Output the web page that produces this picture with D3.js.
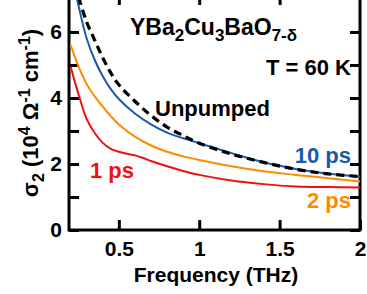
<!DOCTYPE html>
<html>
<head>
<meta charset="utf-8">
<script src="https://cdn.jsdelivr.net/npm/d3@7"></script>
<style>
  body { margin: 0; background: #fff; }
  svg { display: block; font-family: Arial, "Liberation Sans", sans-serif; font-weight: bold; }
</style>
</head>
<body>
<svg id="chart" width="367" height="294"></svg>
<script>
// values (sigma2 in 10^4 / ohm cm, frequency in THz)
let freqUnpumped = [0.25, 0.3, 0.35, 0.4, 0.45, 0.5, 0.6, 0.7, 0.8, 0.9, 1.0, 1.2, 1.4, 1.6, 1.8, 2.0];
let sigUnpumped  = [7.05, 6.3, 5.75, 5.22, 4.76, 4.4, 3.9, 3.47, 3.12, 2.86, 2.63, 2.3, 2.05, 1.84, 1.7, 1.62];

let freq10ps = [0.235, 0.25, 0.3, 0.35, 0.4, 0.45, 0.5, 0.6, 0.7, 0.8, 0.9, 1.0, 1.2, 1.4, 1.6, 1.8, 2.0];
let sig10ps  = [7.1, 6.78, 5.8, 5.15, 4.66, 4.27, 3.97, 3.53, 3.2, 2.95, 2.78, 2.63, 2.33, 2.05, 1.85, 1.71, 1.61];

let freq2ps = [0.2, 0.25, 0.3, 0.35, 0.4, 0.45, 0.5, 0.6, 0.7, 0.8, 0.9, 1.0, 1.2, 1.4, 1.6, 1.8, 2.0];
let sig2ps  = [5.6, 4.95, 4.42, 4.05, 3.74, 3.45, 3.2, 2.83, 2.56, 2.37, 2.23, 2.12, 1.93, 1.78, 1.67, 1.57, 1.47];

let freq1ps = [0.2, 0.25, 0.3, 0.35, 0.4, 0.45, 0.5, 0.55, 0.6, 0.65, 0.7, 0.8, 0.9, 1.0, 1.2, 1.4, 1.6, 1.8, 2.0];
let sig1ps  = [4.95, 4.1, 3.36, 2.94, 2.64, 2.46, 2.37, 2.31, 2.26, 2.18, 2.09, 1.93, 1.79, 1.67, 1.5, 1.39, 1.32, 1.3, 1.29];

let xTicks = [0.5, 1, 1.5, 2];
let yTicks = [0, 1, 2, 3, 4, 5, 6];

let blueColor = "#1a5aa8";
let orangeColor = "#ff8a00";
let redColor = "#f01010";

let svg = d3.select("#chart");

let x = d3.scaleLinear().domain([0.19, 2]).range([69, 360]);
let y = d3.scaleLinear().domain([0, 7.12]).range([230, -5]);

svg.append("clipPath").attr("id", "plotClip")
  .append("rect")
  .attr("x", x.range()[0])
  .attr("y", y.range()[1])
  .attr("width", x.range()[1] - x.range()[0])
  .attr("height", y.range()[0] - y.range()[1]);

function styleAxis(g)
{
  g.select(".domain").remove();
  g.selectAll(".tick line").attr("stroke", "#000").attr("stroke-width", 3);
  g.selectAll(".tick text").attr("fill", "#000").attr("font-size", 21)
    .attr("font-family", "Arial, 'Liberation Sans', sans-serif").attr("font-weight", "bold");
}

// bottom & left axes with labels, ticks pointing inward
svg.append("g")
  .attr("transform", "translate(0," + y(0) + ")")
  .call(d3.axisBottom(x).tickValues(xTicks).tickSize(-10).tickPadding(11).tickFormat(d3.format("")))
  .call(styleAxis);

svg.append("g")
  .attr("transform", "translate(" + x.range()[0] + ",0)")
  .call(d3.axisLeft(y).tickValues(yTicks).tickSize(-10).tickPadding(7)
    .tickFormat(d => d % 2 === 0 ? d : ""))
  .call(styleAxis);

// mirrored ticks on top & right
svg.append("g")
  .attr("transform", "translate(0," + y.range()[1] + ")")
  .call(d3.axisTop(x).tickValues([0.5, 1, 1.5]).tickSize(-10).tickFormat(""))
  .call(styleAxis);

svg.append("g")
  .attr("transform", "translate(" + x.range()[1] + ",0)")
  .call(d3.axisRight(y).tickValues(yTicks).tickSize(-10).tickFormat(""))
  .call(styleAxis);

// frame
svg.append("rect")
  .attr("x", x.range()[0])
  .attr("y", y.range()[1])
  .attr("width", x.range()[1] - x.range()[0])
  .attr("height", y.range()[0] - y.range()[1])
  .attr("fill", "none")
  .attr("stroke", "#000")
  .attr("stroke-width", 3);

function drawCurve(freqs, sigs, color, width, dash)
{
  let pts = freqs.map((f, i) => [f, sigs[i]]);
  let line = d3.line()
    .x(d => x(d[0]))
    .y(d => y(d[1]))
    .curve(d3.curveCatmullRom.alpha(0.5));
  svg.append("path")
    .datum(pts)
    .attr("clip-path", "url(#plotClip)")
    .attr("d", line)
    .attr("fill", "none")
    .attr("stroke", color)
    .attr("stroke-width", width)
    .attr("stroke-dasharray", dash);
}

drawCurve(freq1ps, sig1ps, redColor, 2, null);
drawCurve(freq2ps, sig2ps, orangeColor, 2, null);
drawCurve(freq10ps, sig10ps, blueColor, 2, null);
drawCurve(freqUnpumped, sigUnpumped, "#000", 3.2, "8,5");

// labels
let title = svg.append("text").attr("x", 130).attr("y", 35).attr("font-size", 23);
title.append("tspan").text("YBa");
title.append("tspan").attr("dy", 6).attr("font-size", 17).text("2");
title.append("tspan").attr("dy", -6).text("Cu");
title.append("tspan").attr("dy", 6).attr("font-size", 17).text("3");
title.append("tspan").attr("dy", -6).text("BaO");
title.append("tspan").attr("dy", 6).attr("font-size", 17).text("7-δ");

svg.append("text").attr("x", 351).attr("y", 75).attr("font-size", 22)
  .attr("text-anchor", "end").text("T = 60 K");

svg.append("text").attr("x", 155).attr("y", 116).attr("font-size", 22).text("Unpumped");

svg.append("text").attr("x", 351).attr("y", 163).attr("font-size", 22)
  .attr("text-anchor", "end").attr("fill", blueColor).text("10 ps");
svg.append("text").attr("x", 351).attr("y", 208).attr("font-size", 22)
  .attr("text-anchor", "end").attr("fill", orangeColor).text("2 ps");
svg.append("text").attr("x", 90).attr("y", 178).attr("font-size", 22)
  .attr("fill", redColor).text("1 ps");

svg.append("text").attr("x", 216).attr("y", 282).attr("font-size", 21)
  .attr("text-anchor", "middle").text("Frequency (THz)");

let yLabel = svg.append("text")
  .attr("transform", "translate(38,113) rotate(-90)")
  .attr("text-anchor", "middle")
  .attr("font-size", 22);
yLabel.append("tspan").text("σ");
yLabel.append("tspan").attr("dy", 6).attr("font-size", 16).text("2");
yLabel.append("tspan").attr("dy", -6).text(" (10");
yLabel.append("tspan").attr("dy", -8).attr("font-size", 16).text("4");
yLabel.append("tspan").attr("dy", 8).text(" Ω");
yLabel.append("tspan").attr("dy", -8).attr("font-size", 16).text("-1");
yLabel.append("tspan").attr("dy", 8).text(" cm");
yLabel.append("tspan").attr("dy", -8).attr("font-size", 16).text("-1");
yLabel.append("tspan").attr("dy", 8).text(")");
</script>
</body>
</html>
